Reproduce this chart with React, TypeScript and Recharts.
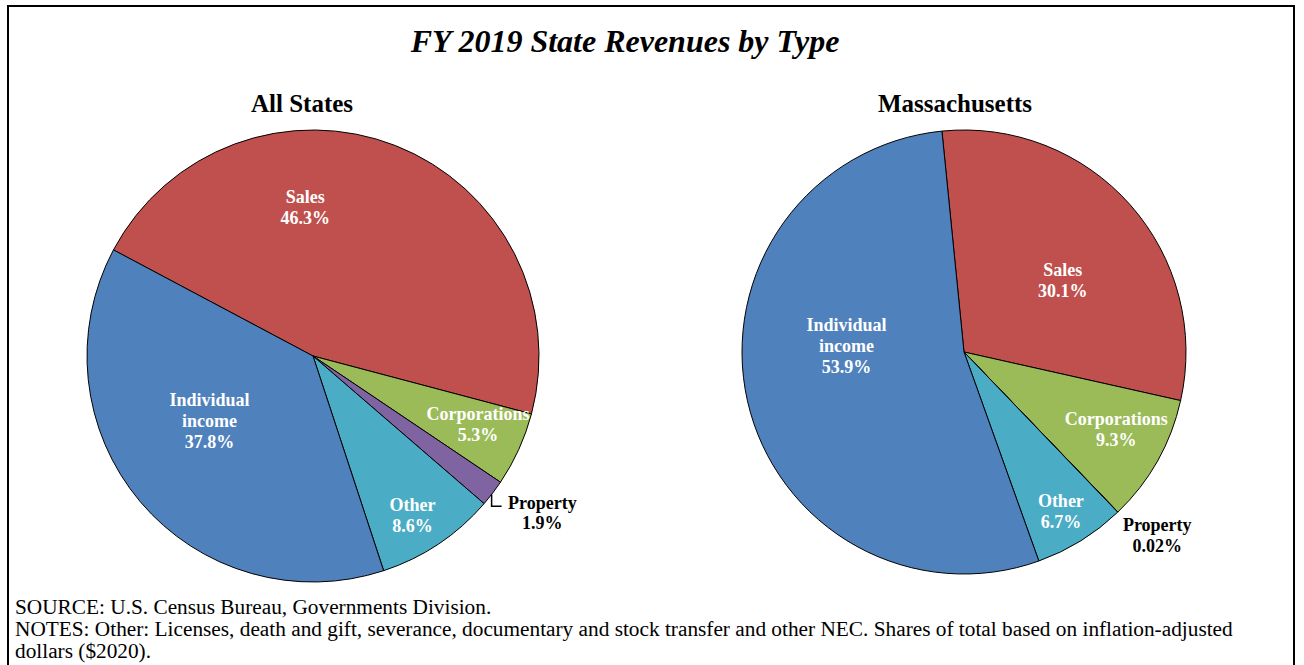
import React from 'react';
import { PieChart, Pie, Cell } from 'recharts';

// categories in clockwise order, starting from the Sales slice
const categories = ['Sales', 'Corporations', 'Property', 'Other', 'Individual income'];
const allStatesShares = [46.3, 5.3, 1.9, 8.6, 37.8];
const massShares = [30.1, 9.3, 0.02, 6.7, 53.9];

const labelText: Record<string, string[]> = {
    Sales: ['Sales'],
    Corporations: ['Corporations'],
    Property: ['Property'],
    Other: ['Other'],
    'Individual income': ['Individual', 'income'],
};

const COLORS: Record<string, string> = {
    Sales: '#C0504D',
    Corporations: '#9BBB59',
    Property: '#8064A2',
    Other: '#4BACC6',
    'Individual income': '#4F81BD',
};

// label placement: [angle in degrees, distance as share of radius]
const leftLabelPos: Record<string, [number, number]> = {
    Sales: [93, 0.66],
    'Individual income': [-148, 0.54],
    Corporations: [-22.5, 0.79],
    Other: [-58, 0.83],
    Property: [-34.4, 1.23],
};
const rightLabelPos: Record<string, [number, number]> = {
    Sales: [36, 0.55],
    'Individual income': [177, 0.53],
    Corporations: [-27, 0.77],
    Other: [-58.7, 0.84],
    Property: [-43.5, 1.2],
};

const allStatesData = categories.map((name, i) => ({ name, value: allStatesShares[i] }));
const massData = categories.map((name, i) => ({ name, value: massShares[i] }));

const SERIF = '"Liberation Serif", "Times New Roman", serif';
const RAD = Math.PI / 180;

const makeLabel = (pos: Record<string, [number, number]>, leader: boolean) => (props: any) => {
    const { cx, cy, outerRadius, midAngle, name, value } = props;
    const [ang, frac] = pos[name];
    const x = cx + outerRadius * frac * Math.cos(ang * RAD);
    const y = cy - outerRadius * frac * Math.sin(ang * RAD);
    const outside = name === 'Property';
    const lines = [...labelText[name], `${value}%`];
    const lh = outside ? 20.5 : 21;
    let leaderLine = null;
    if (outside && leader) {
        const ex = cx + outerRadius * Math.cos(midAngle * RAD);
        const ey = cy - outerRadius * Math.sin(midAngle * RAD);
        leaderLine = <path d={`M${ex - 1},${ey + 1} V${ey + 13} H${ex + 9}`} stroke="#000" strokeWidth={1.5} fill="none" />;
    }
    return (
        <g>
            {leaderLine}
            {lines.map((t, i) => (
                <text
                    key={i}
                    x={x}
                    y={y + (i - (lines.length - 1) / 2) * lh}
                    textAnchor="middle"
                    dominantBaseline="central"
                    fill={outside ? '#000' : '#fff'}
                    fontFamily={SERIF}
                    fontWeight="bold"
                    fontSize={18}
                >
                    {t}
                </text>
            ))}
        </g>
    );
};

const abs = (extra: React.CSSProperties): React.CSSProperties => ({
    position: 'absolute',
    fontFamily: SERIF,
    color: '#000',
    whiteSpace: 'nowrap',
    ...extra,
});

export default function App() {
    return (
        <div style={{ position: 'absolute', left: 0, top: 0, width: 1304, height: 665, overflow: 'hidden', background: '#fff' }}>
            <div style={{ position: 'absolute', left: 7, top: 5, width: 1284, height: 700, border: '2px solid #000' }} />
            <div style={abs({ left: 625, top: 25, transform: 'translateX(-50%)', fontSize: 32, lineHeight: '32px', fontWeight: 'bold', fontStyle: 'italic' })}>
                FY 2019 State Revenues by Type
            </div>
            <div style={abs({ left: 302, top: 91, transform: 'translateX(-50%)', fontSize: 25, lineHeight: '25px', fontWeight: 'bold' })}>
                All States
            </div>
            <div style={abs({ left: 955, top: 91, transform: 'translateX(-50%)', fontSize: 25, lineHeight: '25px', fontWeight: 'bold' })}>
                Massachusetts
            </div>
            <div style={{ position: 'absolute', left: 0, top: 0 }}>
                <PieChart width={1304} height={665} margin={{ top: 0, right: 0, bottom: 0, left: 0 }}>
                    <Pie
                        data={allStatesData}
                        dataKey="value"
                        nameKey="name"
                        cx={313}
                        cy={356}
                        outerRadius={226}
                        startAngle={152}
                        endAngle={-208}
                        stroke="#000"
                        strokeWidth={1}
                        label={makeLabel(leftLabelPos, true)}
                        labelLine={false}
                        isAnimationActive={false}
                    >
                        {allStatesData.map(d => (
                            <Cell key={d.name} fill={COLORS[d.name]} />
                        ))}
                    </Pie>
                    <Pie
                        data={massData}
                        dataKey="value"
                        nameKey="name"
                        cx={964}
                        cy={352}
                        outerRadius={222}
                        startAngle={95.7}
                        endAngle={-264.3}
                        stroke="#000"
                        strokeWidth={1}
                        label={makeLabel(rightLabelPos, false)}
                        labelLine={false}
                        isAnimationActive={false}
                    >
                        {massData.map(d => (
                            <Cell key={d.name} fill={COLORS[d.name]} />
                        ))}
                    </Pie>
                </PieChart>
            </div>
            <div style={abs({ left: 15, top: 596, fontSize: 21.3, lineHeight: '22px' })}>
                <div>SOURCE: U.S. Census Bureau, Governments Division.</div>
                <div>NOTES: Other: Licenses, death and gift, severance, documentary and stock transfer and other NEC. Shares of total based on inflation-adjusted</div>
                <div>dollars ($2020).</div>
            </div>
        </div>
    );
}
